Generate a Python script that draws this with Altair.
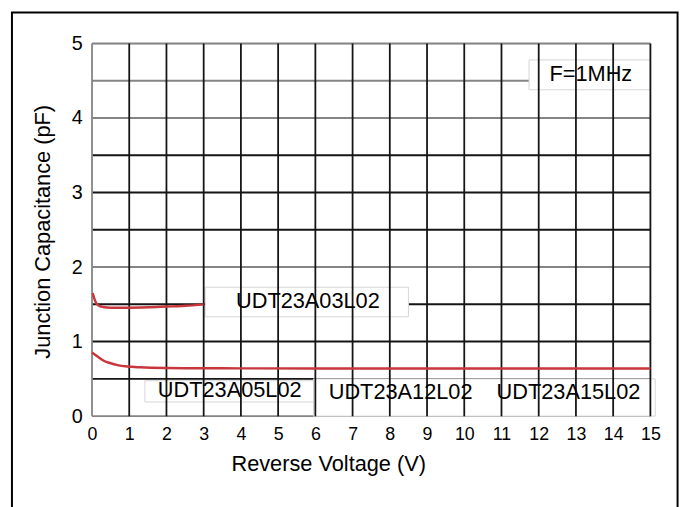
import altair as alt
import pandas as pd

# ---- data ----
a03_v = [0.02, 0.06, 0.12, 0.2, 0.3, 0.5, 1.0, 1.5, 2.0, 2.5, 3.0]
a03_c = [1.65, 1.58, 1.51, 1.48, 1.465, 1.455, 1.455, 1.46, 1.47, 1.48, 1.5]

low_v = [0, 0.15, 0.33, 0.5, 0.68, 0.95, 1.3, 1.6, 2.0, 2.5, 3.0, 4.0, 6.0, 8.0, 10.0, 12.0, 14.0, 15.0]
low_c = [0.855, 0.8, 0.74, 0.71, 0.685, 0.665, 0.655, 0.65, 0.646, 0.643, 0.642, 0.641, 0.64, 0.64, 0.64, 0.64, 0.64, 0.64]

x_ticks = list(range(0, 16))
y_ticks = [0, 1, 2, 3, 4, 5]
y_grid = [0, 0.5, 1, 1.5, 2, 2.5, 3, 3.5, 4, 4.5, 5]

label_text = ["UDT23A03L02", "UDT23A05L02", "UDT23A12L02", "UDT23A15L02", "F=1MHz"]
label_x = [5.8, 3.7, 8.29, 12.8, 13.4]
label_y = [1.54, 0.345, 0.32, 0.32, 4.59]

box_x1 = [3.04, 1.42, 5.95, 11.74]
box_x2 = [8.5, 5.95, 15.13, 15.0]
box_y1 = [1.333, 0.19, 0.0, 4.38]
box_y2 = [1.73, 0.475, 0.5, 4.78]

FONT = "Liberation Sans"
RED = "#c8373b"

curves = pd.concat([
    pd.DataFrame({"v": a03_v, "c": a03_c, "s": "UDT23A03L02"}),
    pd.DataFrame({"v": low_v, "c": low_c, "s": "UDT23A05L02"}),
])

xs = alt.Scale(domain=[0, 15], nice=False, zero=False)
ys = alt.Scale(domain=[0, 5], nice=False, zero=False)

x_axis = alt.Axis(values=x_ticks, title="Reverse Voltage (V)", grid=False,
                  ticks=False, domain=False, labelFontSize=18, labelPadding=10,
                  labelFont=FONT, labelColor="black", labelFlush=False,
                  labelOverlap=False,
                  titleFont=FONT, titleFontSize=22, titleFontWeight="normal",
                  titleColor="black", titleX=239, titleY=55, titleAlign="center",
                  titleBaseline="alphabetic", format="d")
y_axis = alt.Axis(values=y_ticks, title="Junction Capacitance (pF)", grid=False,
                  ticks=False, domain=False, labelFontSize=20, labelPadding=10,
                  labelFont=FONT, labelColor="black", labelOverlap=False,
                  titleFont=FONT, titleFontSize=22, titleFontWeight="normal",
                  titleColor="black", titleAngle=-90, titleX=-43, titleY=190,
                  titleAlign="center", titleBaseline="alphabetic", format="d")

hgrid = alt.Chart(pd.DataFrame({"y": y_grid})).mark_rule(strokeWidth=2).encode(
    y=alt.Y("y:Q", scale=ys, axis=y_axis),
    color=alt.condition("indexof([5, 4.5, 4, 2, 0], datum.y) >= 0",
                        alt.value("#858585"), alt.value("#151515")),
)

boxes = alt.Chart(pd.DataFrame({"x1": box_x1, "x2": box_x2, "y1": box_y1, "y2": box_y2})).mark_rect(
    fill="white", stroke="#d6d6d6", strokeWidth=1
).encode(
    x=alt.X("x1:Q", scale=xs, axis=x_axis), x2="x2:Q",
    y=alt.Y("y1:Q", scale=ys, axis=y_axis), y2="y2:Q",
)

vgrid = alt.Chart(pd.DataFrame({"x": x_ticks})).mark_rule(strokeWidth=1.8).encode(
    x=alt.X("x:Q", scale=xs, axis=x_axis),
    color=alt.condition("datum.x == 0", alt.value("#858585"), alt.value("#151515")),
)

lines = alt.Chart(curves).mark_line(strokeWidth=2.5, color=RED, interpolate="monotone").encode(
    x=alt.X("v:Q", scale=xs, axis=x_axis),
    y=alt.Y("c:Q", scale=ys, axis=y_axis),
    detail="s:N",
)

texts = alt.Chart(pd.DataFrame({"t": label_text, "x": label_x, "y": label_y})).mark_text(
    font=FONT, fontSize=22, color="black", align="center", baseline="middle"
).encode(
    x=alt.X("x:Q", scale=xs, axis=x_axis), y=alt.Y("y:Q", scale=ys, axis=y_axis), text="t:N"
)

frame = alt.Chart(pd.DataFrame({"k": [0]})).mark_rect(
    fill="transparent", stroke="black", strokeWidth=2
).encode(
    x=alt.value(-81), x2=alt.value(592.5), y=alt.value(-31.5), y2=alt.value(540)
)

chart = alt.layer(hgrid, boxes, vgrid, lines, texts, frame).properties(
    width=565, height=377,
    autosize=alt.AutoSizeParams(type="none"),
    padding={"left": 85, "top": 33, "right": 33, "bottom": 90},
).configure_view(stroke=None).configure(background="white")

chart.save("out.html", embed_options={"renderer": "svg", "actions": False})
